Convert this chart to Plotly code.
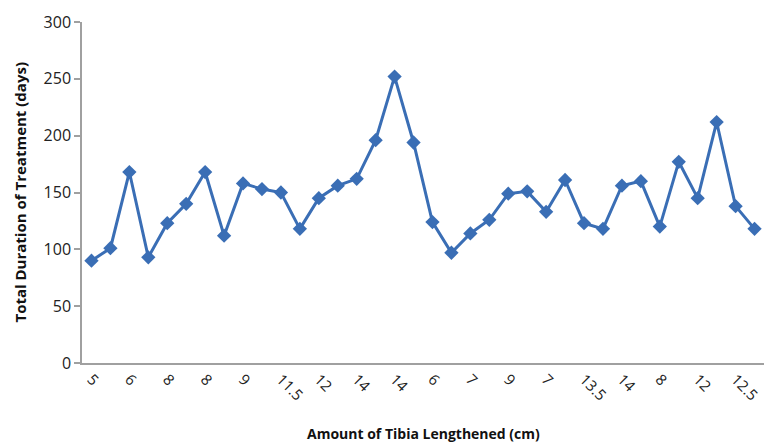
import plotly.graph_objects as go

# Data
duration_days = [90, 101, 168, 93, 123, 140, 168, 112, 158, 153, 150, 118,
                 145, 156, 162, 196, 252, 194, 124, 97, 114, 126, 149, 151,
                 133, 161, 123, 118, 156, 160, 120, 177, 145, 212, 138, 118]
case_index = list(range(1, len(duration_days) + 1))
tick_positions = list(range(1, len(duration_days) + 1, 2))
tick_labels = ["5", "6", "8", "8", "9", "11.5", "12", "14", "14",
               "6", "7", "9", "7", "13.5", "14", "8", "12", "12.5"]
x_title = "Amount of Tibia Lengthened (cm)"
y_title = "Total Duration of Treatment (days)"

color = "#3A6EB5"
font_family = "Open Sans, Lato, sans-serif"
W, H = 764, 444
ML, MR, MT, MB = 82, 0, 22, 81
plot_h = H - MT - MB

fig = go.Figure(go.Scatter(
    x=case_index, y=duration_days, mode="lines+markers",
    line=dict(color=color, width=3),
    marker=dict(symbol="diamond", size=11, color=color),
    showlegend=False, cliponaxis=False,
))

fig.update_layout(
    width=W, height=H,
    margin=dict(l=ML, r=MR, t=MT, b=MB, autoexpand=False),
    paper_bgcolor="white", plot_bgcolor="white",
    font=dict(family=font_family, color="#222222"),
)
fig.update_xaxes(
    range=[0.5, len(duration_days) + 0.5], automargin=False,
    tickmode="array", tickvals=tick_positions, ticktext=tick_labels,
    tickangle=45, tickfont=dict(size=15, color="#222222"),
    showgrid=False, zeroline=False,
    showline=True, linecolor="#A0A0A0", linewidth=1.5,
    ticks="", ticklen=4,
)
fig.update_yaxes(
    range=[0, 300], tickvals=[0, 50, 100, 150, 200, 250, 300], automargin=False,
    tickfont=dict(size=16, color="#222222"),
    showgrid=False, zeroline=False,
    showline=True, linecolor="#A0A0A0", linewidth=1.5,
    ticks="outside", ticklen=6, tickcolor="#A0A0A0", tickwidth=1.5,
)

# Axis titles placed as annotations (pixel-aligned with the reference)
fig.add_annotation(
    text="<b>" + x_title + "</b>", xref="paper", yref="paper",
    x=0.5, y=-(433 - (H - MB)) / plot_h, xanchor="center", yanchor="middle",
    showarrow=False, borderpad=0, font=dict(size=14, color="#111111"),
)
fig.add_annotation(
    text="<b>" + y_title + "</b>", xref="paper", yref="paper",
    x=-(ML - 19) / (W - ML - MR), y=0.5,
    xanchor="center", yanchor="middle", textangle=-90,
    showarrow=False, font=dict(size=15, color="#111111"),
)

fig.write_html(
    "out.html",
    config={"displayModeBar": False},
    post_script="document.body.style.margin='0';document.body.style.overflow='hidden';",
)
